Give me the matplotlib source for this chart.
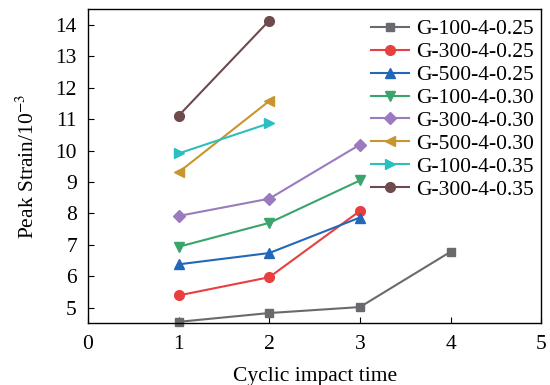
import matplotlib
matplotlib.use("Agg")
import matplotlib.pyplot as plt

plt.rcParams['font.family'] = ['Liberation Serif', 'DejaVu Serif']
plt.rcParams['mathtext.fontset'] = 'stix'

labels = ["G-100-4-0.25", "G-300-4-0.25", "G-500-4-0.25", "G-100-4-0.30",
          "G-300-4-0.30", "G-500-4-0.30", "G-100-4-0.35", "G-300-4-0.35"]
xs = [[1, 2, 3, 4], [1, 2, 3], [1, 2, 3], [1, 2, 3], [1, 2, 3], [1, 2], [1, 2], [1, 2]]
ys = [[4.55, 4.83, 5.02, 6.78],
      [5.39, 5.97, 8.08],
      [6.38, 6.74, 7.87],
      [6.94, 7.70, 9.05],
      [7.92, 8.47, 10.19],
      [9.31, 11.58],
      [9.91, 10.87],
      [11.11, 14.14]]
colors = ["#6a6a6e", "#e8403f", "#2367b9", "#3aa56b", "#9a7bc0", "#c8962f", "#2bbfc0", "#6e4a4c"]
markers = ["s", "o", "^", "v", "D", "<", ">", "o"]
sizes = [6, 7, 7, 7, 6, 7, 7, 7]

fig = plt.figure(figsize=(5.5, 3.85), dpi=100)
ax = fig.add_axes([0.16, 0.16, 0.824, 0.816])
for x, y, c, m, s, l in zip(xs, ys, colors, markers, sizes, labels):
    ax.plot(x, y, color=c, marker=m, markersize=s, linewidth=1.5, label=l, clip_on=False)

ax.set_xlim(0, 5)
ax.set_ylim(4.5, 14.5)
ax.set_xticks([0, 1, 2, 3, 4, 5])
ax.set_yticks(range(5, 15))
ax.tick_params(direction='in', labelsize=15.5, length=4, pad=8, top=False, right=False)
for sp in ax.spines.values():
    sp.set_linewidth(1.0)
ax.set_xlabel("Cyclic impact time", fontsize=15.5, labelpad=10)
ax.set_ylabel("Peak Strain/10$^{-3}$", fontsize=15.5, labelpad=12)
ax.legend(loc='upper right', bbox_to_anchor=(1.004, 0.995), frameon=False, fontsize=15.5,
          handlelength=1.75, labelspacing=0.13, borderaxespad=0.0, handletextpad=0.35)
fig.savefig("out.png", dpi=100)
